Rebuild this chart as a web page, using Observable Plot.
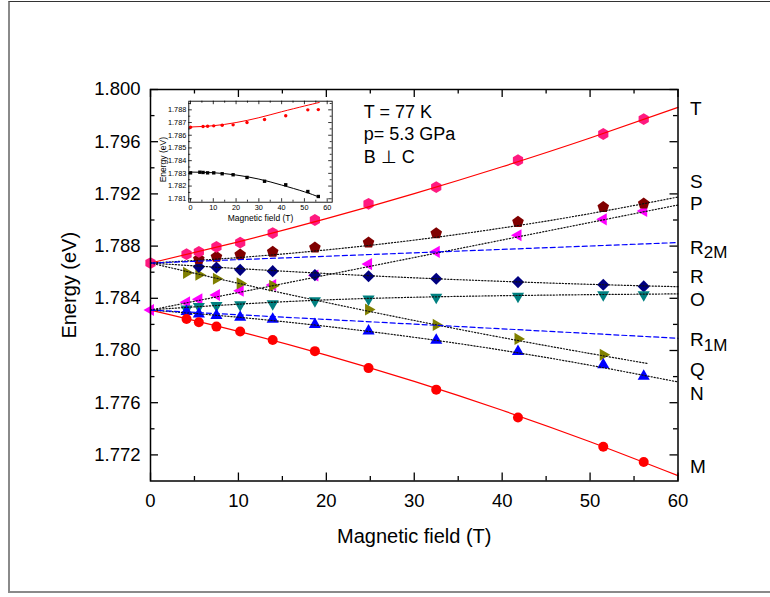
<!DOCTYPE html>
<html><head><meta charset="utf-8">
<script src="https://cdn.jsdelivr.net/npm/d3@7"></script>
<script src="https://cdn.jsdelivr.net/npm/@observablehq/plot@0.6"></script>
<style>
body{margin:0;background:#fff}
#wrap{position:relative;width:770px;height:597px;overflow:hidden;background:#fff}
#wrap svg{position:absolute;overflow:visible}
#border{position:absolute;left:8px;top:1px;width:800px;height:589px;border-top:1px solid #333;border-left:2px solid #8a8a8a;border-bottom:2px solid #8a8a8a}
</style>
</head><body><div id="wrap"><div id="border"></div></div>
<script>
// ---------- data ----------
const fields = [0, 4.1, 5.5, 7.5, 10.2, 13.9, 18.7, 24.8, 32.5, 41.8, 51.5, 56.1];
const energyT = [1.78670, 1.78738, 1.78756, 1.78794, 1.78827, 1.78900, 1.79000, 1.79124, 1.79252, 1.79458, 1.79659, 1.79773];
const energyS = [null, null, 1.78700, 1.78718, 1.78735, 1.78756, 1.78789, 1.78827, 1.78898, 1.78985, 1.79099, 1.79125];
const energyP = [1.78310, 1.78369, 1.78392, 1.78425, 1.78458, 1.78501, 1.78575, 1.78662, 1.78756, 1.78883, 1.79005, 1.79069];
const energyR = [null, null, 1.78641, 1.78636, 1.78618, 1.78608, 1.78578, 1.78569, 1.78550, 1.78524, 1.78504, 1.78491];
const energyO = [null, 1.78318, 1.78338, 1.78344, 1.78351, 1.78358, 1.78382, 1.78395, 1.78408, 1.78415, 1.78427, 1.78427];
const energyQ = [null, 1.78595, 1.78580, 1.78550, 1.78514, 1.78496, null, 1.78314, 1.78196, 1.78089, 1.77967, null];
const energyN = [null, 1.78298, 1.78280, 1.78269, 1.78254, 1.78240, 1.78200, 1.78150, 1.78079, 1.77992, 1.77891, 1.77802];
const energyM = [null, 1.78242, 1.78216, 1.78183, 1.78145, 1.78081, 1.77995, 1.77865, 1.77700, 1.77486, 1.77262, 1.77145];

// fitted curves
const fitFields = [0, 10, 20, 30, 40, 50, 60];
const fitT = [1.78670, 1.78833, 1.79010, 1.79202, 1.79408, 1.79628, 1.79863];
const fitS = [1.78670, 1.78712, 1.78771, 1.78846, 1.78939, 1.79049, 1.79176];
const fitR = [1.78670, 1.78628, 1.78590, 1.78557, 1.78530, 1.78507, 1.78489];
const fitO = [1.78312, 1.78355, 1.78388, 1.78408, 1.78420, 1.78428, 1.78434];
const fitN = [1.78310, 1.78255, 1.78185, 1.78101, 1.78002, 1.77887, 1.77759];
const fitM = [1.78310, 1.78147, 1.77965, 1.77763, 1.77542, 1.77301, 1.77041];
const fitFieldsQ = [0, 10, 20, 30, 40, 50, 56.6];
const fitQ = [1.78670, 1.78515, 1.78368, 1.78230, 1.78099, 1.77977, 1.77900];
const straightFields = [0, 60];
const fitP = [1.78310, 1.79115];
const fitR2M = [1.78670, 1.78827];
const fitR1M = [1.78310, 1.78094];

// right-hand labels
const labelText = ["T", "S", "P", "R", "R", "O", "R", "Q", "N", "M"];
const labelSub  = ["", "", "", "2M", "", "", "1M", "", "", ""];
const labelY    = [1.79854, 1.79290, 1.79126, 1.78789, 1.78563, 1.78387, 1.78080, 1.77854, 1.77670, 1.77107];

const annotation = ["T = 77 K", "p= 5.3 GPa", "B \u22A5 C"];

// ticks
const xMajor = [0, 10, 20, 30, 40, 50, 60];
const xMinor = [5, 15, 25, 35, 45, 55];
const yMajor = [1.772, 1.776, 1.780, 1.784, 1.788, 1.792, 1.796, 1.800];
const yMinor = [1.774, 1.778, 1.782, 1.786, 1.790, 1.794, 1.798];

// inset data
const insetFields = [0, 4.1, 5.5, 7.5, 10.2, 13.9, 18.7, 24.8, 32.5, 41.8, 51.5, 56.1];
const insetRed   = [1.78663, null, 1.78669, 1.78671, 1.78674, 1.78679, 1.78682, 1.78700, 1.78724, 1.78753, 1.78800, 1.78802];
const insetBlack = [1.78304, 1.78309, 1.78307, 1.78304, 1.78304, 1.78297, 1.78289, 1.78268, 1.78238, 1.78210, 1.78157, 1.78118];
const insetFitFields = [0, 10, 20, 30, 40, 50, 56.5];
const insetFitRed   = [1.78665, 1.78675, 1.78700, 1.78738, 1.78785, 1.78830, 1.78858];
const insetFitBlack = [1.78310, 1.78305, 1.78287, 1.78255, 1.78208, 1.78155, 1.78113];
const insetXMajor = [0, 10, 20, 30, 40, 50, 60];
const insetXMinor = [5, 15, 25, 35, 45, 55];
const insetYMajor = [1.781, 1.782, 1.783, 1.784, 1.785, 1.786, 1.787, 1.788];
const insetYMinor = [1.7815, 1.7825, 1.7835, 1.7845, 1.7855, 1.7865, 1.7875, 1.7885];

// ---------- helpers ----------
const FONT = '"Liberation Sans", Arial, Helvetica, sans-serif';
const poly = (n, rot, k) => ({
  draw(ctx, size) {
    const R = Math.sqrt(size / Math.PI) * k;
    for (let i = 0; i < n; i++) {
      const a = (rot + i * 360 / n) * Math.PI / 180;
      const px = R * Math.sin(a), py = -R * Math.cos(a);
      if (i === 0) ctx.moveTo(px, py); else ctx.lineTo(px, py);
    }
    ctx.closePath();
  }
});
const symUp = poly(3, 0, 1.4), symDown = poly(3, 180, 1.4), symRight = poly(3, 90, 1.4), symLeft = poly(3, 270, 1.4);
const symPent = poly(5, 0, 1.22), symHex = poly(6, 0, 1.18), symDiam = poly(4, 0, 1.22);

const rowsOf = (bs, es) => bs.map((b, i) => ({b, e: es[i]})).filter(d => d.e != null);
const dots = (es, fill, symbol, r = 5) => Plot.dot(rowsOf(fields, es), {x: "b", y: "e", fill, symbol, r});
const line = (bs, es, style) => Plot.line(rowsOf(bs, es), {x: "b", y: "e", curve: "natural", ...style});
const red = {stroke: "#ff0000", strokeWidth: 1.2};
const dotted = {stroke: "#111", strokeWidth: 1.2, strokeDasharray: "1.2,1.9"};
const dashed = {stroke: "#0000ff", strokeWidth: 1.2, strokeDasharray: "5,3"};

// ---------- main plot ----------
const W = 770, H = 597, mL = 150, mR = 92.5, mT = 89, mB = 116.5;
const fw = W - mL - mR, fh = H - mT - mB;

const main = Plot.plot({
  width: W, height: H,
  marginLeft: mL, marginRight: mR, marginTop: mT, marginBottom: mB,
  x: {domain: [0, 60]},
  y: {domain: [1.770, 1.800]},
  style: {fontFamily: FONT, fontSize: "18.5px", color: "#000", background: "transparent"},
  marks: [
    // markers
    dots(energyP, "#ff00ff", symLeft),
    dots(energyQ, "#808000", symRight),
    dots(energyR, "#000080", symDiam),
    dots(energyO, "#008080", symDown),
    dots(energyN, "#0000ff", symUp),
    dots(energyS, "#800000", symPent),
    dots(energyT, "#ff1a80", symHex),
    dots(energyM, "#ff0000", "circle", 5),
    // fits
    line(fitFields, fitT, red),
    line(fitFields, fitM, red),
    line(fitFields, fitS, dotted),
    line(straightFields, fitP, dotted),
    line(fitFields, fitR, dotted),
    line(fitFields, fitO, dotted),
    line(fitFieldsQ, fitQ, dotted),
    line(fitFields, fitN, dotted),
    line(straightFields, fitR2M, dashed),
    line(straightFields, fitR1M, dashed),
    // inward ticks
    Plot.tickX(xMajor, {x: d => d, insetTop: fh - 8, stroke: "#000", strokeWidth: 1.3}),
    Plot.tickX(xMajor, {x: d => d, insetBottom: fh - 8, stroke: "#000", strokeWidth: 1.3}),
    Plot.tickX(xMinor, {x: d => d, insetTop: fh - 4.5, stroke: "#000", strokeWidth: 1.3}),
    Plot.tickX(xMinor, {x: d => d, insetBottom: fh - 4.5, stroke: "#000", strokeWidth: 1.3}),
    Plot.tickY(yMajor, {y: d => d, insetRight: fw - 8, stroke: "#000", strokeWidth: 1.3}),
    Plot.tickY(yMajor, {y: d => d, insetLeft: fw - 8, stroke: "#000", strokeWidth: 1.3}),
    Plot.tickY(yMinor, {y: d => d, insetRight: fw - 4.5, stroke: "#000", strokeWidth: 1.3}),
    Plot.tickY(yMinor, {y: d => d, insetLeft: fw - 4.5, stroke: "#000", strokeWidth: 1.3}),
    Plot.frame({stroke: "#000", strokeWidth: 1.5}),
    // tick labels
    Plot.axisX(xMajor, {tickSize: 0, tickPadding: 13, tickFormat: d => String(d), label: null, fontSize: 18.5}),
    Plot.axisY(yMajor, {tickSize: 0, tickPadding: 10, tickFormat: d3.format(".3f"), label: null, fontSize: 18.5}),
    // axis titles
    Plot.text(["Magnetic field (T)"], {text: d => d, frameAnchor: "bottom", dy: 56, fontSize: 20, textAnchor: "middle", lineAnchor: "middle"}),
    Plot.text(["Energy (eV)"], {text: d => d, frameAnchor: "left", dx: -81, rotate: -90, fontSize: 20, textAnchor: "middle", lineAnchor: "middle"}),
    // right labels
    Plot.text(labelText.map((t, i) => ({t, y: labelY[i]})), {text: "t", y: "y", frameAnchor: "right", dx: 12, textAnchor: "start", lineAnchor: "middle", fontSize: 19}),
    Plot.text(labelSub.map((t, i) => ({t, y: labelY[i]})).filter(d => d.t), {text: "t", y: "y", frameAnchor: "right", dx: 25.7, dy: 5, textAnchor: "start", lineAnchor: "middle", fontSize: 17}),
    // annotation
    Plot.text([annotation.join("\n")], {text: d => d, frameAnchor: "top-left", dx: 213.3, dy: 12.3, textAnchor: "start", lineAnchor: "top", lineHeight: 1.25, fontSize: 18})
  ]
});
main.style.left = "0px"; main.style.top = "0px";
document.getElementById("wrap").appendChild(main);

// ---------- inset ----------
const iW = 200, iH = 140, imL = 38.3, imR = 18.3, imT = 10.7, imB = 28.3;
const ifw = iW - imL - imR, ifh = iH - imT - imB;
const irows = (es) => rowsOf(insetFields, es);
const inset = Plot.plot({
  width: iW, height: iH,
  marginLeft: imL, marginRight: imR, marginTop: imT, marginBottom: imB,
  x: {domain: [-0.75, 62.2]},
  y: {domain: [1.78073, 1.78868]},
  style: {fontFamily: FONT, fontSize: "7.3px", color: "#000", background: "transparent"},
  marks: [
    Plot.dot(irows(insetRed), {x: "b", y: "e", fill: "#ff0000", r: 1.7}),
    Plot.dot(irows(insetBlack), {x: "b", y: "e", fill: "#000", symbol: "square", r: 1.9}),
    Plot.line(rowsOf(insetFitFields, insetFitRed), {x: "b", y: "e", curve: "natural", stroke: "#ff0000", strokeWidth: 1}),
    Plot.line(rowsOf(insetFitFields, insetFitBlack), {x: "b", y: "e", curve: "natural", stroke: "#000", strokeWidth: 1}),
    Plot.tickX(insetXMajor, {x: d => d, insetTop: ifh - 3.5, stroke: "#000", strokeWidth: 0.8}),
    Plot.tickX(insetXMajor, {x: d => d, insetBottom: ifh - 3.5, stroke: "#000", strokeWidth: 0.8}),
    Plot.tickX(insetXMinor, {x: d => d, insetTop: ifh - 2, stroke: "#000", strokeWidth: 0.8}),
    Plot.tickX(insetXMinor, {x: d => d, insetBottom: ifh - 2, stroke: "#000", strokeWidth: 0.8}),
    Plot.tickY(insetYMajor, {y: d => d, insetRight: ifw - 3.5, stroke: "#000", strokeWidth: 0.8}),
    Plot.tickY(insetYMajor, {y: d => d, insetLeft: ifw - 3.5, stroke: "#000", strokeWidth: 0.8}),
    Plot.tickY(insetYMinor, {y: d => d, insetRight: ifw - 2, stroke: "#000", strokeWidth: 0.8}),
    Plot.tickY(insetYMinor, {y: d => d, insetLeft: ifw - 2, stroke: "#000", strokeWidth: 0.8}),
    Plot.frame({stroke: "#000", strokeWidth: 0.9}),
    Plot.axisX(insetXMajor, {tickSize: 0, tickPadding: 3, tickFormat: d => String(d), label: null, fontSize: 7.3}),
    Plot.axisY(insetYMajor, {tickSize: 0, tickPadding: 2.5, tickFormat: d3.format(".3f"), label: null, fontSize: 7.3}),
    Plot.text(["Magnetic field (T)"], {text: d => d, frameAnchor: "bottom", dy: 16.5, fontSize: 8.5, textAnchor: "middle", lineAnchor: "middle"}),
    Plot.text(["Energy (eV)"], {text: d => d, frameAnchor: "left", dx: -25.3, dy: 8, rotate: -90, fontSize: 8.5, textAnchor: "middle", lineAnchor: "middle"})
  ]
});
inset.style.left = "150px"; inset.style.top = "90px";
document.getElementById("wrap").appendChild(inset);
</script></body></html>
